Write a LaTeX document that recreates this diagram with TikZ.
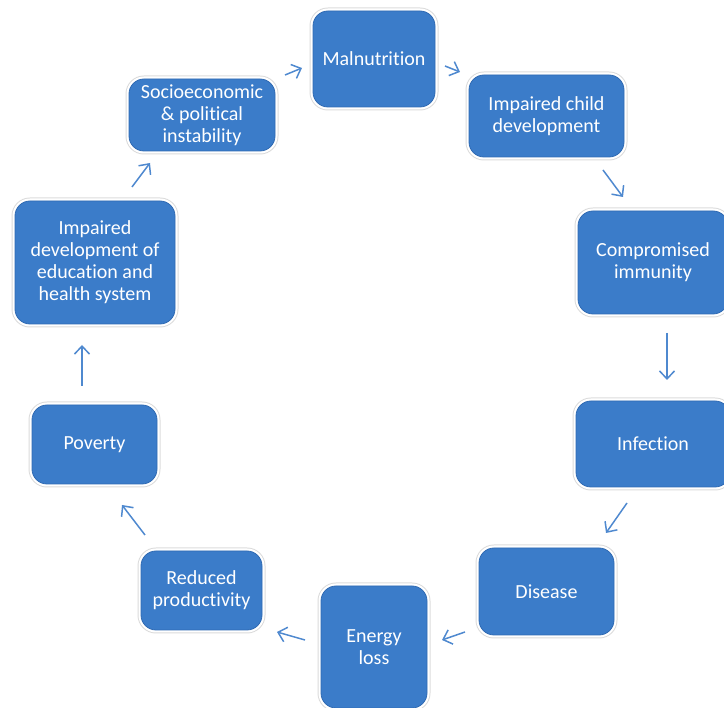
\documentclass[tikz,border=0pt]{standalone}
\usepackage{fontspec}
\setmainfont{Carlito}[Ligatures=NoCommon]
\usetikzlibrary{arrows.meta}
\definecolor{boxfill}{HTML}{3B7CC9}
\definecolor{boxline}{HTML}{2F6AB3}
\definecolor{arrowc}{HTML}{4F89CF}
\begin{document}
\begin{tikzpicture}[x=1pt,y=-1pt,
  box/.style={rectangle, rounded corners=15pt, fill=boxfill, draw=boxline, line width=0.8pt,
    text=white, align=center, font=\fontsize{20}{22}\selectfont, inner sep=0pt,
    preaction={draw=black!14, line width=7pt},
    preaction={draw=white, line width=5pt}},
  arr/.style={draw=arrowc, line width=1.5pt, -{Straight Barb[length=8pt,width=15pt,line width=1.5pt]}}]
\useasboundingbox (0,0) rectangle (724,708);
% nodes
\node[box, minimum width=122, minimum height=96] (mal) at (374,59) {Malnutrition};
\node[box, minimum width=155, minimum height=82] (icd) at (546.5,116) {Impaired child\\development};
\node[box, minimum width=150, minimum height=103] (ci) at (653,262.5) {Compromised\\immunity};
\node[box, minimum width=154, minimum height=86] (inf) at (653,444) {Infection};
\node[box, minimum width=135, minimum height=87] (dis) at (546.5,591.5) {Disease};
\node[box, minimum width=106, minimum height=122] (el) at (374,647) {Energy\\loss};
\node[box, minimum width=121, minimum height=79] (rp) at (201.5,590.5) {Reduced\\productivity};
\node[box, minimum width=125, minimum height=79] (pov) at (94.5,444.5) {Poverty};
\node[box, minimum width=160, minimum height=123] (ide) at (95,262.5) {Impaired\\development of\\education and\\health system};
\node[box, minimum width=146, minimum height=72] (soc) at (202,115) {Socioeconomic\\\& political\\instability};
% arrow end points
\coordinate (a1s) at (285,75);  \coordinate (a1e) at (302,68);
\coordinate (a2s) at (445,66);  \coordinate (a2e) at (460,72);
\coordinate (a3s) at (603,170); \coordinate (a3e) at (623,197);
\coordinate (a4s) at (667,333); \coordinate (a4e) at (667,380);
\coordinate (a5s) at (627,503); \coordinate (a5e) at (606,533);
\coordinate (a6s) at (465,632); \coordinate (a6e) at (442,640);
\coordinate (a7s) at (305,640); \coordinate (a7e) at (277,632);
\coordinate (a8s) at (145,535); \coordinate (a8e) at (122,505);
\coordinate (a9s) at (82,386);  \coordinate (a9e) at (82,345);
\coordinate (a10s) at (132,187); \coordinate (a10e) at (150,163);
\draw[arr] (a1s) -- (a1e);
\draw[arr] (a2s) -- (a2e);
\draw[arr] (a3s) -- (a3e);
\draw[arr] (a4s) -- (a4e);
\draw[arr] (a5s) -- (a5e);
\draw[arr] (a6s) -- (a6e);
\draw[arr] (a7s) -- (a7e);
\draw[arr] (a8s) -- (a8e);
\draw[arr] (a9s) -- (a9e);
\draw[arr] (a10s) -- (a10e);
\end{tikzpicture}
\end{document}
